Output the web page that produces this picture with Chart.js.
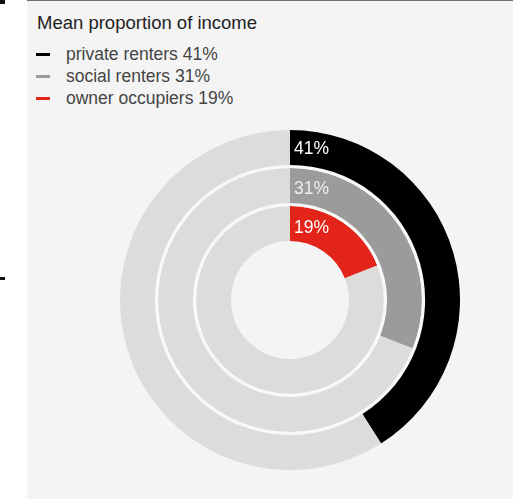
<!DOCTYPE html>
<html lang="en">
<head>
  <meta charset="UTF-8">
  <title>Mean proportion of income</title>
  <script src="https://cdn.jsdelivr.net/npm/chart.js"></script>
  <style>
    body { margin: 0; width: 513px; height: 499px; background: #fff; position: relative; overflow: hidden;
           font-family: "Liberation Sans", Arial, sans-serif; }
    #panel { position: absolute; left: 27px; top: 0; width: 486px; height: 499px; background: #f4f4f4;
             border-top: 1px solid #6e6e6e; box-sizing: border-box; }
    .mark { position: absolute; background: #111; }
    #title { position: absolute; left: 37px; top: 12px; font-size: 18.5px; color: #222; }
    #legend { position: absolute; left: 36px; top: 43px; font-size: 17.5px; color: #444; line-height: 22px; }
    #legend div { position: relative; padding-left: 30px; }
    #legend span { position: absolute; left: 0; top: 10px; width: 14px; height: 3px; }
    #rings { position: absolute; left: 120px; top: 130px; }
  </style>
</head>
<body>
  <div id="panel"></div>
  <div class="mark" style="left:0;top:0;width:5px;height:4px"></div>
  <div class="mark" style="left:0;top:277px;width:5px;height:3px"></div>
  <div id="title">Mean proportion of income</div>
  <div id="legend"></div>
  <canvas id="rings" width="340" height="340"></canvas>

  <script>
    const groups = ['private renters', 'social renters', 'owner occupiers'];
    const shares = [41, 31, 19];
    const colores = ['#000000', '#9b9b9b', '#e3241b'];
    const textColors = ['#ffffff', '#eeeeee', '#ffffff'];
    const track = '#dcdcda';

    // legend in html, one line per group
    const legend = document.getElementById('legend');
    groups.forEach((g, i) => {
      const row = document.createElement('div');
      row.innerHTML = '<span style="background:' + colores[i] + '"></span>' + g + ' ' + shares[i] + '%';
      legend.appendChild(row);
    });

    // one ring per group, thin spacer rings in between
    const datasets = [];
    groups.forEach((g, i) => {
      if (i > 0) {
        datasets.push({ data: [1], backgroundColor: ['#f8f8f8'], borderWidth: 0, weight: 0.09, spacer: true });
      }
      datasets.push({
        label: g,
        data: [shares[i], 100 - shares[i]],
        backgroundColor: [colores[i], track],
        borderWidth: 0,
        weight: 1,
        group: i
      });
    });

    // percentage written at the start of each arc, inside the ring
    const ringLabels = {
      id: 'ringLabels',
      afterDatasetsDraw(chart) {
        const ctx = chart.ctx;
        ctx.save();
        ctx.font = '17.5px "Liberation Sans", Arial, sans-serif';
        ctx.textAlign = 'left';
        ctx.textBaseline = 'middle';
        chart.data.datasets.forEach((ds, di) => {
          if (ds.spacer) return;
          const arc = chart.getDatasetMeta(di).data[0];
          const r = (arc.innerRadius + arc.outerRadius) / 2;
          ctx.fillStyle = textColors[ds.group];
          ctx.fillText(shares[ds.group] + '%', arc.x + 4, arc.y - r + 2 + ds.group * 1.5);
        });
        ctx.restore();
      }
    };

    new Chart(document.getElementById('rings'), {
      type: 'doughnut',
      data: { labels: ['value', 'rest'], datasets: datasets },
      options: {
        responsive: false,
        animation: false,
        cutout: 59,
        layout: { padding: 0 },
        plugins: {
          legend: { display: false },
          tooltip: { enabled: false }
        }
      },
      plugins: [ringLabels]
    });
  </script>
</body>
</html>
